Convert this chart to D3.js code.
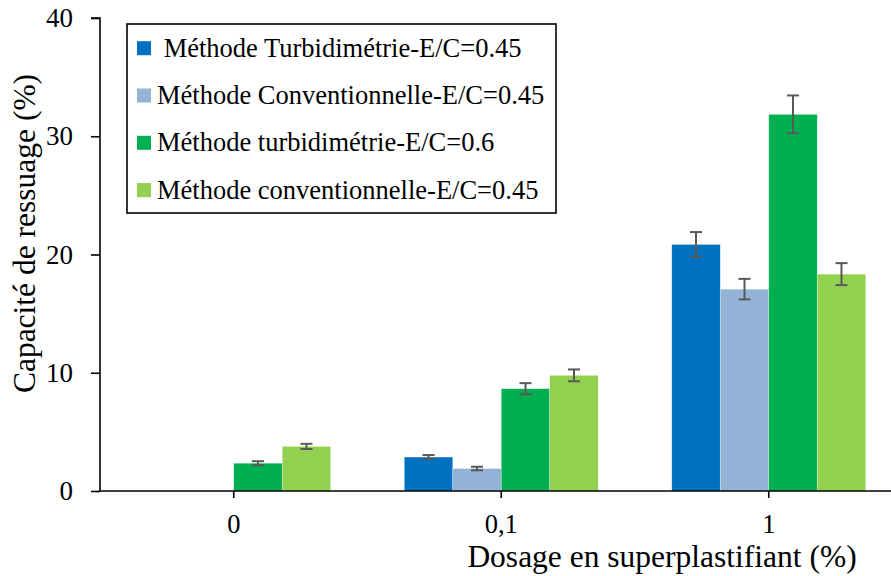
<!DOCTYPE html>
<html><head><meta charset="utf-8">
<script src="https://cdn.jsdelivr.net/npm/d3@7"></script>
<style>body{margin:0;background:#fff}svg{display:block}svg text{font-family:'Liberation Serif','Times New Roman',Tinos,'DejaVu Serif',serif !important;fill:#000}</style>
</head><body><svg id="c" width="891" height="576"></svg>
<script>
const categories = ["0", "0,1", "1"];
const seriesNames = [" Méthode Turbidimétrie-E/C=0.45", "Méthode Conventionnelle-E/C=0.45", "Méthode turbidimétrie-E/C=0.6", "Méthode conventionnelle-E/C=0.45"];
const seriesColors = ["#0070C0", "#95B3D7", "#00B050", "#92D050"];
const values = [
  [0, 2.87, 20.85],
  [0, 1.9, 17.07],
  [2.35, 8.65, 31.85],
  [3.77, 9.78, 18.34]
];
const errors = [
  [0, 0.17, 1.05],
  [0, 0.15, 0.87],
  [0.17, 0.47, 1.6],
  [0.22, 0.5, 0.93]
];
const yTicks = [0, 10, 20, 30, 40];

const FONT = "'Liberation Serif','Times New Roman',Tinos,'DejaVu Serif',serif";
const svg = d3.select("#c");
const mLeft = 100, mRight = 902.5, mTop = 18, mBottom = 491;
const x0 = d3.scaleBand().domain(categories).range([mLeft, mRight]).paddingInner(0.275).paddingOuter(0.1375);
const x1 = d3.scaleBand().domain(d3.range(seriesNames.length)).range([0, x0.bandwidth()]);
const y = d3.scaleLinear().domain([0, 40]).range([mBottom, mTop]);

const plot = svg.append("g");
const groups = plot.selectAll("g.grp").data(seriesNames.map((n, i) => i)).join("g");
groups.each(function(si) {
  const g = d3.select(this);
  categories.forEach((c, ci) => {
    const v = values[si][ci];
    if (v <= 0) return;
    const xx = x0(c) + x1(si);
    g.append("rect").attr("x", xx).attr("y", y(v)).attr("width", x1.bandwidth()).attr("height", y(0) - y(v))
      .attr("fill", seriesColors[si]).attr("stroke", "#ffffff").attr("stroke-opacity", 0.5).attr("stroke-width", 0.6);
  });
});
// error bars
groups.each(function(si) {
  const g = d3.select(this);
  categories.forEach((c, ci) => {
    const v = values[si][ci], e = errors[si][ci];
    if (v <= 0) return;
    const cx = x0(c) + x1(si) + x1.bandwidth() / 2;
    const hi = y(v + e), lo = y(v - e);
    const eb = g.append("g").attr("stroke", "#595959").attr("stroke-width", 2);
    eb.append("line").attr("x1", cx).attr("x2", cx).attr("y1", hi).attr("y2", lo);
    eb.append("line").attr("x1", cx - 6).attr("x2", cx + 6).attr("y1", hi).attr("y2", hi);
    eb.append("line").attr("x1", cx - 6).attr("x2", cx + 6).attr("y1", lo).attr("y2", lo);
  });
});

// y axis
const yAxis = svg.append("g").attr("transform", `translate(${mLeft},0)`)
  .call(d3.axisLeft(y).tickValues(yTicks).tickSize(9).tickPadding(18));
yAxis.attr("font-family", FONT);
yAxis.select(".domain").attr("stroke", "#000").attr("stroke-width", 1.6).attr("d", `M-9,${mTop}H0V${mBottom}`);
yAxis.selectAll(".tick line").attr("stroke", "#000").attr("stroke-width", 1.6);
yAxis.selectAll(".tick text").attr("font-size", 27).attr("font-family", FONT);

// x axis
const xAxis = svg.append("g").attr("transform", `translate(0,${mBottom})`)
  .call(d3.axisBottom(x0).tickSize(7).tickPadding(16));
xAxis.attr("font-family", FONT);
xAxis.select(".domain").attr("stroke", "#000").attr("stroke-width", 1.6).attr("d", `M${mLeft},0H${891}`);
xAxis.selectAll(".tick line").attr("stroke", "#000").attr("stroke-width", 1.6);
xAxis.selectAll(".tick text").attr("font-size", 26.5).attr("font-family", FONT);

// axis titles
svg.append("text").attr("transform", "translate(35,233.5) rotate(-90)").attr("text-anchor", "middle")
  .attr("font-family", FONT).attr("font-size", 31.5).text("Capacité de ressuage (%)");
svg.append("text").attr("x", 662).attr("y", 567).attr("text-anchor", "middle")
  .attr("font-family", FONT).attr("font-size", 31.5).text("Dosage en superplastifiant (%)");

// legend
const lg = svg.append("g");
lg.append("rect").attr("x", 127).attr("y", 24).attr("width", 429).attr("height", 189)
  .attr("fill", "#fff").attr("stroke", "#000").attr("stroke-width", 1.6);
const rowBase = [56.7, 104, 151.3, 198.6];
seriesNames.forEach((n, i) => {
  lg.append("rect").attr("x", 137).attr("y", rowBase[i] - 15.5).attr("width", 14).attr("height", 14).attr("fill", seriesColors[i]);
  lg.append("text").attr("x", 157).attr("y", rowBase[i]).attr("font-family", FONT).attr("font-size", 26.5).attr("xml:space", "preserve")
    .style("white-space", "pre").text(n);
});
</script></body></html>
